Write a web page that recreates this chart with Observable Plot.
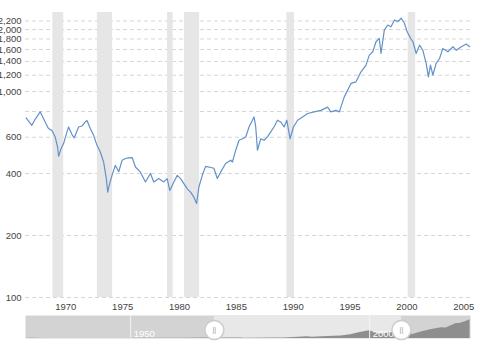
<!DOCTYPE html>
<html>
<head>
<meta charset="utf-8">
<script src="https://cdn.jsdelivr.net/npm/d3@7"></script>
<script src="https://cdn.jsdelivr.net/npm/@observablehq/plot@0.6"></script>
<style>
  html, body { margin: 0; padding: 0; background: #fff; }
  #chart { width: 486px; }
</style>
</head>
<body>
<div id="chart"></div>
<script>
// Main series: decimal year, value (log scale)
const years = [1967.57,1967.68,1968.07,1968.36,1968.80,1969.24,1969.53,1969.83,1970.12,1970.33,1970.42,1970.63,1970.86,
1971.16,1971.30,1971.60,1971.80,1972.18,1972.48,1972.77,1972.92,1973.21,1973.50,1973.80,1974.09,1974.38,1974.62,1974.74,
1974.91,1975.12,1975.41,1975.71,1976.01,1976.30,1976.59,1976.89,1977.18,1977.62,1978.06,1978.50,1978.79,1979.23,1979.67,
1979.97,1980.20,1980.56,1980.86,1981.15,1981.44,1981.74,1982.03,1982.32,1982.56,1982.76,1983.06,1983.35,1983.64,1984.08,
1984.38,1984.67,1985.11,1985.56,1985.71,1986.00,1986.29,1986.59,1986.88,1987.17,1987.47,1987.61,1987.76,1987.91,1988.20,
1988.49,1988.79,1989.08,1989.37,1989.67,1989.96,1990.26,1990.49,1990.78,1991.08,1991.44,1991.88,1992.32,1992.90,1993.49,
1994.08,1994.37,1994.81,1995.11,1995.55,1996.14,1996.58,1997.02,1997.46,1997.75,1998.05,1998.34,1998.63,1998.78,1999.07,
1999.37,1999.66,1999.96,2000.26,2000.55,2000.84,2001.08,2001.38,2001.59,2001.87,2002.17,2002.46,2002.75,2002.95,2003.13,
2003.34,2003.63,2003.92,2004.22,2004.66,2005.11,2005.40,2005.84,2006.28,2006.57];
const values = [745,731,686,733,797,712,661,648,602,538,485,527,559,
637,673,618,596,673,680,712,723,661,613,548,509,455,378,325,
357,392,438,408,464,473,476,478,430,406,364,400,364,378,364,
378,331,364,392,378,357,337,325,307,286,344,392,433,430,424,
378,406,447,464,455,519,580,590,602,673,726,753,673,519,590,
580,602,637,673,726,712,673,726,590,673,726,753,782,797,810,
840,797,810,797,942,1095,1115,1247,1344,1503,1560,1745,1813,1530,1989,
2104,2065,2225,2185,2270,2145,1950,1813,1745,1530,1680,1586,1369,1179,1344,
1203,1369,1443,1620,1560,1651,1586,1651,1700,1651];

// Recession bands (decimal years)
const recStart = [1969.92, 1973.83, 1980.00, 1981.50, 1990.50, 2001.17];
const recEnd   = [1970.87, 1975.17, 1980.50, 1982.83, 1991.17, 2001.83];

// Tick labels
const yTicks = [100, 200, 400, 600, 800, 1000, 1200, 1400, 1600, 1800, 2000, 2200];
const xTicks = [1970, 1975, 1980, 1985, 1990, 1995, 2000, 2005];

// Navigator (full history overview, linear)
const navYears  = [1928,1929,1932,1937,1942,1946,1949,1953,1956,1961,1966,1968,1970,1973,1974,1980,1982,1987,1988,1990,1994,1996,1998,2000,2002,2003,2007,2009,2011,2013,2015,2016,2018,2019,2020,2021];
const navValues = [20,30,6,17,8,18,15,25,47,70,85,105,75,115,65,115,110,320,260,330,460,700,1150,1480,850,900,1520,750,1300,1700,2080,2000,2800,2900,3200,3600];
const navTicks = [1950, 2000];

const series = years.map((t, i) => ({t, v: values[i]}));
const bands = recStart.map((s, i) => ({s, e: recEnd[i]}));
const nav = navYears.map((t, i) => ({t, v: navValues[i]}));

const xDomain = [1967.51, 2006.65];
const yDomain = [100, 2420];
const font = "'Liberation Sans', Arial, sans-serif";

const main = Plot.plot({
  width: 486,
  height: 315,
  marginTop: 12,
  marginBottom: 18,
  marginLeft: 25,
  marginRight: 16,
  style: {fontFamily: font, fontSize: "9.5px", color: "#444", background: "#fff"},
  x: {domain: xDomain, label: null},
  y: {type: "log", domain: yDomain, label: null},
  marks: [
    Plot.gridY(yTicks, {stroke: "#d6d6d6", strokeOpacity: 1, strokeDasharray: "4,3"}),
    Plot.rect(bands, {x1: "s", x2: "e", y1: yDomain[0], y2: yDomain[1], fill: "#e6e6e6"}),
    Plot.axisY(yTicks, {tickSize: 0, tickPadding: 4, tickFormat: d3.format(","), fill: "#444", label: null}),
    Plot.axisX(xTicks, {tickSize: 0, tickPadding: 6, dx: 12, tickFormat: d => String(d), fill: "#444", label: null}),
    Plot.line(series, {x: "t", y: "v", stroke: "#6391c9", strokeWidth: 1.2})
  ]
});

const navigator = Plot.plot({
  width: 486,
  height: 38,
  marginTop: 0,
  marginBottom: 15,
  marginLeft: 25,
  marginRight: 16,
  style: {fontFamily: font, fontSize: "9.5px", background: "#fff"},
  x: {domain: [1928, 2021.1], axis: null},
  y: {domain: [0, 4400], axis: null},
  marks: [
    Plot.frame({fill: "#d3d3d3", stroke: null}),
    Plot.rect([xDomain], {x1: d => d[0], x2: d => d[1], y1: 0, y2: 4400, fill: "#e8e8e8"}),
    Plot.areaY(nav, {x: "t", y: "v", fill: "#8e8e8e", curve: "linear"}),
    Plot.ruleX(navTicks, {stroke: "#f4f4f4", strokeWidth: 1}),
    Plot.text(navTicks, {x: d => d, frameAnchor: "bottom", textAnchor: "start", dx: 3, dy: -2, text: d => String(d), fill: "#ffffff"}),
    Plot.dot(xDomain, {x: d => d, frameAnchor: "middle", dy: 3, r: 9.5, fill: "#fff", stroke: "#cccccc"}),
    Plot.text(xDomain, {x: d => d, frameAnchor: "middle", dy: 3, text: () => "||", fill: "#9a9a9a", fontSize: 7})
  ]
});

const el = document.getElementById("chart");
el.appendChild(main);
el.appendChild(navigator);
</script>
</body>
</html>
